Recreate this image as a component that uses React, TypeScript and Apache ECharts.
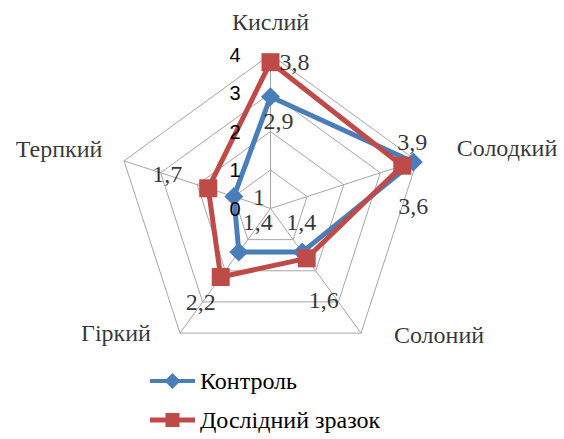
import React, { useEffect, useRef } from "react";
import * as echarts from "echarts";

// Indicators in clockwise order starting from the top
const indicatorNames = ["Кислий", "Солодкий", "Солоний", "Гіркий", "Терпкий"];
const controlValues = [2.9, 3.9, 1.4, 1.4, 1];
const sampleValues = [3.8, 3.6, 1.6, 2.2, 1.7];
const tickLabels = [0, 1, 2, 3, 4];
const seriesNames = ["Контроль", "Дослідний зразок"];

// layout constants (label offsets in px)
const nameOffsets = [[0, -33], [90, -13], [78, 2], [-64, 0], [-65, -12]];
const controlLabelOffsets = [[8, 24], [-1, -20], [-1, -30], [19, -30], [25, 0]];
const sampleLabelOffsets = [[24, 0], [11, 40], [17, 42], [-20, 25], [-41, -14]];

const CENTER: [number, number] = [270.5, 208.5];
const RADIUS = 154;
const BLUE = "#4A7EBB";
const RED = "#BE4B48";
const GRID = "#A6A6A6";
const SERIF =
  "'Liberation Serif', 'DejaVu Serif', 'Noto Serif', Tinos, FreeSerif, 'Times New Roman', 'Noto Serif CJK SC', serif";
const SANS = "'Liberation Sans', Arial, sans-serif";

// ECharts radar goes counter-clockwise; reorder clockwise data
const radarOrder = [0, 4, 3, 2, 1];
const fmt = (v: number) => String(v).replace(".", ",");

export default function App() {
  const ref = useRef<HTMLDivElement>(null);
  useEffect(() => {
    if (!ref.current) return;
    const chart = echarts.init(ref.current, undefined, { renderer: "svg" });
    const maxVal = tickLabels[tickLabels.length - 1];

    const labelSeries = (
      values: number[],
      offsets: number[][],
      texts: string[],
      name: string
    ) => ({
      type: "scatter",
      name,
      coordinateSystem: "polar",
      symbolSize: 1,
      z: 10,
      silent: true,
      itemStyle: { color: "rgba(0,0,0,0)" },
      data: values.map((v, i) => ({
        value: [v, i * (360 / indicatorNames.length)],
        label: {
          show: true,
          position: "inside",
          formatter: texts[i],
          offset: offsets[i],
          fontSize: 24,
          fontFamily: SERIF,
          color: "#000",
          align: "center",
          verticalAlign: "middle",
        },
      })),
    });

    const lineIcon =
      "path://M0,6 L16.5,6 L22.5,0 L28.5,6 L45,6 L45,10 L28.5,10 L22.5,16 L16.5,10 L0,10 Z";
    const rectIcon =
      "path://M0,5.5 L15.5,5.5 L15.5,1 L29.5,1 L29.5,5.5 L45,5.5 L45,10.5 L29.5,10.5 L29.5,15 L15.5,15 L15.5,10.5 L0,10.5 Z";

    chart.setOption({
      animation: false,
      backgroundColor: "#fff",
      legend: {
        orient: "vertical",
        left: 150,
        top: 369,
        padding: 0,
        itemWidth: 45,
        itemHeight: 16,
        itemGap: 15,
        textStyle: { fontSize: 24, fontFamily: SERIF, color: "#000", lineHeight: 24 },
        data: [
          { name: seriesNames[0], icon: lineIcon, itemStyle: { color: BLUE } },
          { name: seriesNames[1], icon: rectIcon, itemStyle: { color: RED } },
        ],
      },
      radar: {
        center: CENTER,
        radius: RADIUS,
        startAngle: 90,
        shape: "polygon",
        splitNumber: 4,
        indicator: radarOrder.map((i) => ({ name: indicatorNames[i], min: 0, max: maxVal })),
        axisName: { show: false },
        splitLine: { lineStyle: { color: GRID, width: 1 } },
        splitArea: { show: false },
        axisLine: { lineStyle: { color: GRID, width: 1 } },
        axisTick: { show: false },
        axisLabel: { show: false },
      },
      polar: { center: CENTER, radius: RADIUS },
      angleAxis: {
        type: "value",
        min: 0,
        max: 360,
        startAngle: 90,
        clockwise: true,
        show: false,
      },
      radiusAxis: {
        type: "value",
        min: 0,
        max: maxVal,
        interval: 1,
        z: 20,
        axisLine: { show: false },
        axisTick: { show: false },
        splitLine: { show: false },
        axisLabel: {
          show: true,
          margin: 30,
          fontSize: 20,
          fontFamily: SANS,
          color: "#000",
        },
      },
      series: [
        {
          type: "radar",
          z: 3,
          data: [
            {
              name: seriesNames[0],
              value: radarOrder.map((i) => controlValues[i]),
              symbol: "diamond",
              symbolSize: 19,
              lineStyle: { color: BLUE, width: 5 },
              itemStyle: { color: BLUE },
            },
            {
              name: seriesNames[1],
              value: radarOrder.map((i) => sampleValues[i]),
              symbol: "rect",
              symbolSize: 18,
              lineStyle: { color: RED, width: 5 },
              itemStyle: { color: RED },
            },
          ],
        },
        labelSeries(
          indicatorNames.map(() => maxVal),
          nameOffsets,
          indicatorNames,
          "names"
        ),
        labelSeries(controlValues, controlLabelOffsets, controlValues.map(fmt), "controlLabels"),
        labelSeries(sampleValues, sampleLabelOffsets, sampleValues.map(fmt), "sampleLabels"),
      ],
    });
    return () => chart.dispose();
  }, []);

  return (
    <div
      ref={ref}
      style={{ position: "fixed", left: 0, top: 0, width: 564, height: 439, background: "#fff" }}
    />
  );
}
